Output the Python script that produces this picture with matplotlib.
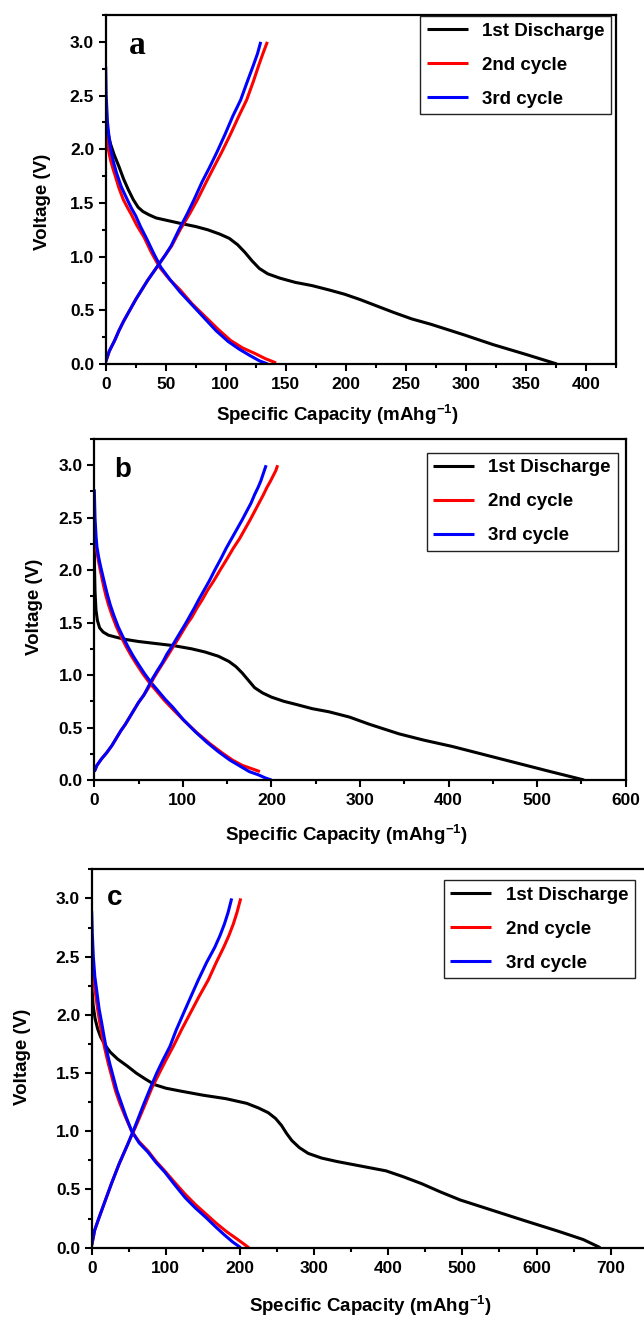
import matplotlib
matplotlib.use("Agg")
import matplotlib.pyplot as plt
from matplotlib.ticker import MultipleLocator, FormatStrFormatter

plt.rcParams['font.family'] = ['Liberation Sans', 'DejaVu Sans']
plt.rcParams['font.weight'] = 'bold'
plt.rcParams['mathtext.fontset'] = 'custom'
plt.rcParams['mathtext.rm'] = 'Liberation Sans:bold'
plt.rcParams['mathtext.bf'] = 'Liberation Sans:bold'
plt.rcParams['mathtext.it'] = 'Liberation Sans:bold'

# ---------------- Panel a ----------------
a_dis1_x = [0, 2, 4, 7, 11, 15, 19, 23, 27, 31, 36, 42, 50, 62, 75, 85, 95, 103, 110, 116, 122, 128, 135, 145, 158, 172, 186, 199, 212, 226, 240, 255, 271, 299, 323, 350, 376]
a_dis1_y = [2.30, 2.15, 2.05, 1.95, 1.84, 1.72, 1.62, 1.53, 1.46, 1.42, 1.39, 1.36, 1.34, 1.31, 1.28, 1.25, 1.21, 1.17, 1.11, 1.04, 0.96, 0.89, 0.84, 0.80, 0.76, 0.73, 0.69, 0.65, 0.60, 0.54, 0.48, 0.42, 0.37, 0.27, 0.18, 0.09, 0.0]
a_dis2_x = [0, 1, 2.2, 4, 6, 8, 11, 14.7, 18, 21, 26, 32, 38, 45, 53, 62, 72, 83, 94, 104, 114, 124, 133, 142]
a_dis2_y = [2.24, 2.10, 2.00, 1.90, 1.82, 1.75, 1.64, 1.53, 1.46, 1.40, 1.29, 1.18, 1.04, 0.90, 0.79, 0.69, 0.56, 0.44, 0.32, 0.22, 0.15, 0.10, 0.05, 0.01]
a_dis3_x = [0, 0.4, 1.5, 2.8, 4.2, 6.5, 9, 13, 18, 21.5, 25, 29, 34, 40, 46, 54, 62, 72, 82, 92, 102, 111, 120, 128, 135]
a_dis3_y = [2.77, 2.50, 2.25, 2.11, 2.00, 1.88, 1.78, 1.65, 1.53, 1.45, 1.38, 1.28, 1.17, 1.03, 0.90, 0.78, 0.67, 0.55, 0.43, 0.31, 0.21, 0.14, 0.08, 0.03, 0.0]
a_ch2_x = [0, 3, 7.5, 11, 15, 20, 25, 30, 35, 40, 45, 50, 55, 62, 70, 76.4, 84, 90, 97, 104, 111, 117.5, 123, 127.5, 131, 134.7]
a_ch2_y = [0.02, 0.12, 0.22, 0.31, 0.40, 0.50, 0.60, 0.69, 0.78, 0.86, 0.94, 1.02, 1.10, 1.25, 1.40, 1.53, 1.70, 1.83, 1.98, 2.14, 2.31, 2.46, 2.63, 2.78, 2.89, 3.0]
a_ch3_x = [0, 3, 7.5, 11, 15, 20, 25, 30, 35, 40, 45, 50, 54.5, 61, 68, 73.6, 80.5, 86.5, 93, 99.5, 106, 112.5, 118, 123, 126.5, 129.2]
a_ch3_y = [0.02, 0.12, 0.22, 0.31, 0.40, 0.50, 0.60, 0.69, 0.78, 0.86, 0.94, 1.02, 1.10, 1.25, 1.40, 1.53, 1.70, 1.83, 1.98, 2.14, 2.31, 2.46, 2.63, 2.78, 2.89, 3.0]

# ---------------- Panel b ----------------
b_dis1_x = [0, 0.3, 0.8, 1.9, 3.5, 6, 10, 16, 25, 35, 50, 70, 90, 110, 125, 140, 152, 160, 167, 174, 181, 190, 200, 214, 228, 246, 265, 288, 311, 344, 372, 404, 441, 478, 515, 553]
b_dis1_y = [2.30, 2.00, 1.80, 1.62, 1.52, 1.45, 1.41, 1.38, 1.36, 1.34, 1.32, 1.30, 1.28, 1.25, 1.22, 1.18, 1.13, 1.08, 1.02, 0.95, 0.88, 0.83, 0.79, 0.75, 0.72, 0.68, 0.65, 0.60, 0.53, 0.44, 0.38, 0.32, 0.24, 0.16, 0.08, 0.0]
b_dis2_x = [0, 1, 2.5, 4, 6, 8, 10.2, 13, 16, 20, 25, 30, 36, 42, 48, 55, 62, 70, 79, 88, 102, 116, 130, 144, 156, 167, 177, 187]
b_dis2_y = [2.34, 2.27, 2.20, 2.12, 2.03, 1.95, 1.86, 1.76, 1.67, 1.57, 1.46, 1.37, 1.27, 1.18, 1.10, 1.01, 0.93, 0.85, 0.76, 0.68, 0.56, 0.45, 0.35, 0.26, 0.19, 0.14, 0.11, 0.08]
b_dis3_x = [0, 0.8, 2, 3, 5, 7, 9.5, 12, 15, 18, 22, 27, 32, 38, 44, 50, 57, 64, 72, 80, 89, 100, 114, 127, 140, 153, 165, 175, 185, 193, 200]
b_dis3_y = [2.77, 2.50, 2.32, 2.22, 2.12, 2.04, 1.95, 1.86, 1.76, 1.67, 1.57, 1.46, 1.37, 1.27, 1.18, 1.10, 1.01, 0.93, 0.85, 0.77, 0.69, 0.58, 0.46, 0.36, 0.27, 0.19, 0.13, 0.08, 0.05, 0.02, 0.0]
b_ch2_x = [0, 3, 8, 14, 20, 25, 30, 35, 40, 45, 50, 56, 62, 67, 72, 78, 84, 89, 95, 100, 105, 110, 116, 122, 128, 135, 142, 150, 157, 164, 170, 176, 181, 186, 191, 195, 199, 202, 205, 207]
b_ch2_y = [0.08, 0.14, 0.20, 0.26, 0.33, 0.40, 0.47, 0.53, 0.60, 0.67, 0.74, 0.81, 0.89, 0.97, 1.04, 1.12, 1.20, 1.27, 1.35, 1.42, 1.49, 1.55, 1.64, 1.72, 1.81, 1.90, 2.00, 2.11, 2.21, 2.30, 2.39, 2.48, 2.56, 2.64, 2.72, 2.79, 2.85, 2.90, 2.95, 3.0]
b_ch3_x = [0, 3, 8, 14, 20, 25, 30, 35, 40, 45, 50, 56, 61, 66, 71, 77, 82, 87.4, 93, 98, 103, 107, 113, 118, 124, 130, 136, 143, 149, 155, 161, 167, 172, 177, 181, 185, 188, 190, 192, 194]
b_ch3_y = [0.08, 0.14, 0.20, 0.26, 0.33, 0.40, 0.47, 0.53, 0.60, 0.67, 0.74, 0.81, 0.89, 0.97, 1.04, 1.12, 1.20, 1.27, 1.35, 1.42, 1.49, 1.55, 1.64, 1.72, 1.81, 1.90, 2.00, 2.11, 2.21, 2.30, 2.39, 2.48, 2.56, 2.64, 2.72, 2.79, 2.85, 2.90, 2.95, 3.0]

# ---------------- Panel c ----------------
c_dis1_x = [0, 2, 4.5, 8, 12, 18, 25, 35, 48, 60, 72, 85, 100, 120, 150, 181, 209, 225, 238, 248, 256, 263, 270, 280, 292, 310, 331, 364, 397, 420, 445, 470, 497, 541, 585, 630, 663, 686]
c_dis1_y = [2.25, 2.08, 1.97, 1.88, 1.81, 1.74, 1.68, 1.62, 1.56, 1.50, 1.45, 1.40, 1.37, 1.345, 1.31, 1.28, 1.24, 1.20, 1.16, 1.11, 1.05, 0.98, 0.92, 0.86, 0.81, 0.77, 0.74, 0.70, 0.66, 0.61, 0.55, 0.48, 0.41, 0.32, 0.23, 0.14, 0.07, 0.0]
c_dis2_x = [0, 2, 4.5, 8, 11, 14, 18, 22, 27, 32, 38, 45, 54, 64, 76, 87, 98.5, 112, 126, 140, 154, 168, 181.5, 197, 212]
c_dis2_y = [2.50, 2.33, 2.21, 2.05, 1.93, 1.82, 1.70, 1.59, 1.47, 1.35, 1.24, 1.13, 1.00, 0.91, 0.83, 0.74, 0.66, 0.56, 0.46, 0.37, 0.29, 0.21, 0.14, 0.07, 0.0]
c_dis3_x = [0, 0.8, 2.2, 4.2, 6.7, 10, 13.5, 16.5, 20, 24, 29, 34, 40, 46, 54, 64, 76, 87, 98.5, 112, 126, 140, 154, 167, 179, 190, 201]
c_dis3_y = [2.89, 2.70, 2.50, 2.33, 2.21, 2.05, 1.93, 1.82, 1.70, 1.59, 1.47, 1.35, 1.24, 1.13, 1.00, 0.90, 0.82, 0.73, 0.65, 0.54, 0.43, 0.34, 0.26, 0.18, 0.11, 0.05, 0.0]
c_ch2_x = [0, 4, 10, 18, 26.6, 37, 48.7, 60, 72, 81, 91.2, 100, 110.1, 121, 132.6, 145, 157.3, 168, 178, 185, 191, 196, 201]
c_ch2_y = [0.02, 0.15, 0.26, 0.40, 0.55, 0.72, 0.89, 1.05, 1.23, 1.37, 1.50, 1.61, 1.73, 1.87, 2.01, 2.16, 2.30, 2.45, 2.58, 2.68, 2.78, 2.88, 3.0]
c_ch3_x = [0, 4, 10, 18, 26.6, 37, 48.7, 59, 70, 79, 87.7, 96, 105.6, 114, 123.6, 134, 143.8, 155, 166, 173, 179, 184, 188.8]
c_ch3_y = [0.02, 0.15, 0.26, 0.40, 0.55, 0.72, 0.89, 1.05, 1.23, 1.37, 1.50, 1.61, 1.73, 1.87, 2.01, 2.16, 2.30, 2.45, 2.58, 2.68, 2.78, 2.88, 3.0]

labels = ['1st Discharge', '2nd cycle', '3rd cycle']

fig = plt.figure(figsize=(6.44, 13.18), dpi=100)

W, H = 644.0, 1318.0

def make_axes(left, right, top, bottom):
    return fig.add_axes([left / W, 1 - bottom / H, (right - left) / W, (bottom - top) / H])

panels = [
    dict(ax=make_axes(105.7, 615.7, 15, 364), xlim=425, xmaj=50, xmin=25,
         data=[(a_dis1_x, a_dis1_y), (a_dis2_x, a_dis2_y), (a_dis3_x, a_dis3_y), (a_ch2_x, a_ch2_y), (a_ch3_x, a_ch3_y)],
         letter='a', lpos=(0.046, 0.914), lfont=dict(family=['Liberation Serif', 'DejaVu Serif'], size=24),
         leg=(0.991, 0.997), xl=(0.455, -0.146), yl=(-0.124, 0.464)),
    dict(ax=make_axes(94.3, 625.7, 439, 780), xlim=600, xmaj=100, xmin=50,
         data=[(b_dis1_x, b_dis1_y), (b_dis2_x, b_dis2_y), (b_dis3_x, b_dis3_y), (b_ch2_x, b_ch2_y), (b_ch3_x, b_ch3_y)],
         letter='b', lpos=(0.037, 0.91), lfont=dict(size=20),
         leg=(0.9846, 0.960), xl=(0.475, -0.161), yl=(-0.112, 0.508)),
    dict(ax=make_axes(91.7, 91.7 + 760 * 0.7414, 869.3, 1247.7), xlim=760, xmaj=100, xmin=50,
         data=[(c_dis1_x, c_dis1_y), (c_dis2_x, c_dis2_y), (c_dis3_x, c_dis3_y), (c_ch2_x, c_ch2_y), (c_ch3_x, c_ch3_y)],
         letter='c', lpos=(0.027, 0.923), lfont=dict(size=20),
         leg=(0.9635, 0.972), xl=(0.494, -0.153), yl=(-0.122, 0.504)),
]

colors = ['black', '#ff0000', '#0000ff', '#ff0000', '#0000ff']

for p in panels:
    ax = p['ax']
    handles = []
    for i, ((xs, ys), col) in enumerate(zip(p['data'], colors)):
        ln, = ax.plot(xs, ys, color=col, lw=2.2, solid_joinstyle='round', solid_capstyle='butt')
        if i < 3:
            handles.append(ln)
    ax.set_xlim(0, p['xlim'])
    ax.set_ylim(0, 3.25)
    ax.xaxis.set_major_locator(MultipleLocator(p['xmaj']))
    ax.xaxis.set_minor_locator(MultipleLocator(p['xmin']))
    ax.yaxis.set_major_locator(MultipleLocator(0.5))
    ax.yaxis.set_minor_locator(MultipleLocator(0.25))
    ax.yaxis.set_major_formatter(FormatStrFormatter('%.1f'))
    for s in ax.spines.values():
        s.set_linewidth(1.6)
    ax.tick_params(which='major', direction='out', length=4.8, width=1.5, labelsize=12.5, top=False, right=False)
    ax.tick_params(which='minor', direction='out', length=2.9, width=1.5, top=False, right=False)
    ax.tick_params(axis='x', which='major', pad=4.5)
    ax.tick_params(axis='y', which='major', pad=3.5)
    for lab in ax.get_xticklabels() + ax.get_yticklabels():
        lab.set_fontweight('bold')
    ax.set_xlabel('Specific Capacity (mAhg$^{-1}$)', fontsize=13.5, fontweight='bold')
    ax.set_ylabel('Voltage (V)', fontsize=13.5, fontweight='bold')
    ax.xaxis.set_label_coords(*p['xl'])
    ax.xaxis.label.set_va('center')
    ax.yaxis.set_label_coords(*p['yl'])
    ax.yaxis.label.set_va('center')
    ax.text(p['lpos'][0], p['lpos'][1], p['letter'], transform=ax.transAxes,
            fontweight='bold', ha='left', va='center', **p['lfont'])
    leg = ax.legend(handles, labels, loc='upper right', bbox_to_anchor=p['leg'],
                    borderaxespad=0, fancybox=False, frameon=True, framealpha=1,
                    edgecolor='#222222', fontsize=13.5, handlelength=2.2,
                    handletextpad=0.75, labelspacing=0.9, borderpad=0.35)
    leg.get_frame().set_linewidth(1.0)
    for t in leg.get_texts():
        t.set_fontweight('bold')
    for l in leg.get_lines():
        l.set_linewidth(2.2)

fig.savefig('out.png', dpi=100)
